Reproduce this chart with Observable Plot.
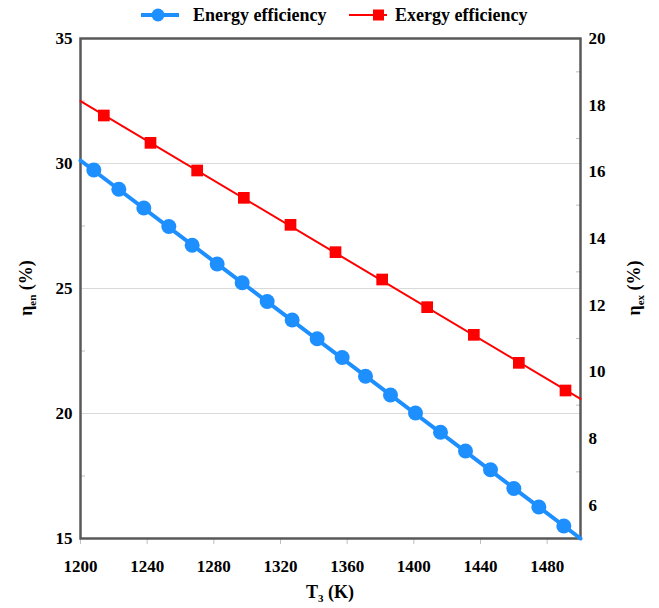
<!DOCTYPE html>
<html>
<head>
<meta charset="utf-8">
<script src="https://cdn.jsdelivr.net/npm/d3@7"></script>
<script src="https://cdn.jsdelivr.net/npm/@observablehq/plot@0.6"></script>
<style>
  body { margin: 0; background: #fff; font-family: "Liberation Serif", "Times New Roman", Times, serif; }
  #legend { position: relative; height: 30px; width: 659px; font-weight: bold; font-size: 18px; }
  #legend .item { position: absolute; top: 0; height: 30px; display: flex; align-items: center; font-family: "Liberation Serif", "Times New Roman", Times, serif; }
  #chart svg { display: block; }
  #chart svg text { font-family: "Liberation Serif", "Times New Roman", Times, serif !important; font-weight: bold !important; }
</style>
</head>
<body>
<div id="legend"></div>
<div id="chart"></div>
<script>
// ---- data ----
const xTicks = [1200, 1240, 1280, 1320, 1360, 1400, 1440, 1480];
const leftTicks = [15, 20, 25, 30, 35];
const leftMinor = [17.5, 22.5, 27.5, 32.5];
const leftGrid = [20, 25, 30];
const rightTicks = [6, 8, 10, 12, 14, 16, 18, 20];
const rightMinor = [7, 9, 11, 13, 15, 17, 19];

const energyT = [1208, 1223, 1238, 1253, 1267, 1282, 1297, 1312, 1327, 1342,
                 1357, 1371, 1386, 1401, 1416, 1431, 1446, 1460, 1475, 1490];
const energyEff = [29.74, 28.97, 28.22, 27.48, 26.73, 25.98, 25.23, 24.48, 23.74, 22.99,
                   22.24, 21.49, 20.74, 20.02, 19.25, 18.50, 17.75, 17.00, 16.26, 15.50];
const exergyT = [1214, 1242, 1270, 1298, 1326, 1353, 1381, 1408, 1436, 1463, 1491];
const exergyEff = [17.69, 16.87, 16.04, 15.22, 14.41, 13.59, 12.77, 11.94, 11.11, 10.27, 9.44];

// fitted trend lines spanning the axis (endpoints)
const lineT = [1200, 1500];
const energyLine = [30.12, 15.0];
const exergyLine = [18.12, 9.19];

const seriesNames = ["Energy efficiency", "Exergy efficiency"];
const blue = "#1e8fff", red = "#ff0000";

// ---- right axis mapping (5–20 onto 15–35) ----
const y2 = d3.scaleLinear().domain([5, 20]).range([15, 35]);

const energy = energyT.map((t, i) => ({t, v: energyEff[i]}));
const exergy = exergyT.map((t, i) => ({t, v: exergyEff[i]}));
const eLine = lineT.map((t, i) => ({t, v: energyLine[i]}));
const xLine = lineT.map((t, i) => ({t, v: exergyLine[i]}));

const chart = Plot.plot({
  width: 659,
  height: 578,
  marginLeft: 80,
  marginRight: 79,
  marginTop: 8,
  marginBottom: 70,
  x: {domain: [1200, 1500]},
  y: {domain: [15, 35]},
  style: "font-family: 'Liberation Serif', 'Times New Roman', Times, serif; font-weight: bold; font-size: 17px; color: #000; background: #fff;",
  marks: [
    Plot.gridY(leftGrid, {stroke: "#d9d9d9", strokeOpacity: 1, strokeWidth: 1}),
    Plot.axisX(xTicks, {tickSize: 6, tickPadding: 15, stroke: "#bfbfbf", label: null, tickFormat: d => String(d)}),
    Plot.axisY(leftTicks, {anchor: "left", tickSize: 0, tickPadding: 8, label: null}),
    Plot.axisY(leftMinor, {anchor: "left", tickSize: -5, stroke: "#bfbfbf", text: null, label: null}),
    Plot.axisY(rightTicks, {anchor: "right", y: y2, tickSize: 0, tickPadding: 8, label: null, tickFormat: d => String(d)}),
    Plot.axisY(rightMinor, {anchor: "right", y: y2, tickSize: -5, stroke: "#bfbfbf", text: null, label: null}),
    Plot.frame({stroke: "#595959", strokeWidth: 2.5}),
    Plot.line(eLine, {x: "t", y: "v", stroke: blue, strokeWidth: 4}),
    Plot.line(xLine, {x: "t", y: d => y2(d.v), stroke: red, strokeWidth: 2}),
    Plot.dot(energy, {x: "t", y: "v", r: 7.5, fill: blue, stroke: "none"}),
    Plot.dot(exergy, {x: "t", y: d => y2(d.v), symbol: "square", r: 6.6, fill: red, stroke: "none"})
  ]
});
document.getElementById("chart").appendChild(chart);

// ---- axis titles with subscripts ----
const svg = d3.select(chart);
function title(x, y, rotate, main, sub, rest) {
  const t = svg.append("text")
    .attr("transform", `translate(${x},${y})` + (rotate ? " rotate(-90)" : ""))
    .attr("text-anchor", "middle")
    .attr("dominant-baseline", "middle")
    .attr("font-size", 18)
    .attr("fill", "#000");
  t.append("tspan").text(main);
  t.append("tspan").attr("font-size", 11).attr("dy", 5).text(sub);
  t.append("tspan").attr("dy", -5).text(rest);
}
title(330, 564, false, "T", "3", " (K)");
title(28, 258, true, "η", "en", " (%)");
title(636, 258, true, "η", "ex", " (%)");

// ---- legend ----
const legend = d3.select("#legend");
const items = [
  {name: seriesNames[0], color: blue, sym: "circle", lx: 141, tx: 193, w: 4},
  {name: seriesNames[1], color: red, sym: "square", lx: 349, tx: 395, w: 2}
];
items.forEach(it => {
  const s = legend.append("svg")
    .style("position", "absolute").style("left", it.lx + "px").style("top", "0px")
    .attr("width", 40).attr("height", 30);
  s.append("line").attr("x1", 0).attr("x2", 38).attr("y1", 15).attr("y2", 15)
    .attr("stroke", it.color).attr("stroke-width", it.w);
  if (it.sym === "circle") s.append("circle").attr("cx", 17).attr("cy", 15).attr("r", 6.5).attr("fill", it.color);
  else s.append("rect").attr("x", 24).attr("y", 9.5).attr("width", 11).attr("height", 11).attr("fill", it.color);
  legend.append("div").attr("class", "item").style("left", it.tx + "px").text(it.name);
});
</script>
</body>
</html>
